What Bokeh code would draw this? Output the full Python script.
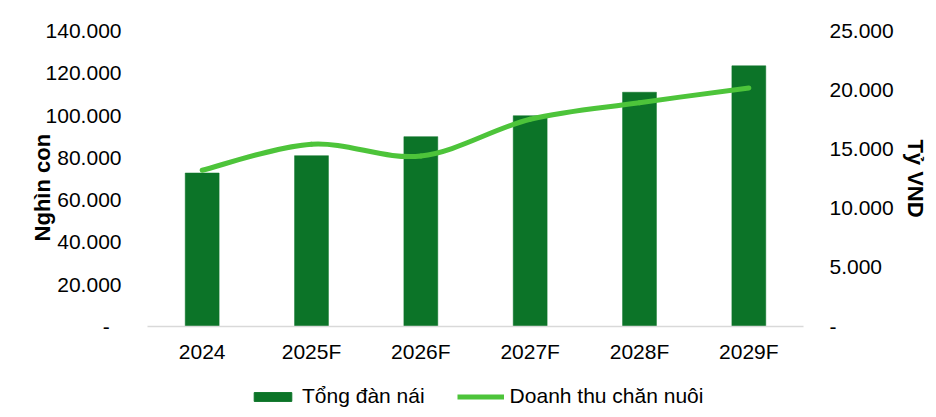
from bokeh.plotting import figure
from bokeh.layouts import column
from bokeh.models import (Range1d, LinearAxis, FixedTicker, Legend, LegendItem,
                          ColumnDataSource)
from bokeh.embed import file_html
from bokeh.resources import INLINE
import numpy as np

categories = ["2024", "2025F", "2026F", "2027F", "2028F", "2029F"]
sows = [72600, 80800, 89800, 99700, 110800, 123300]          # Nghìn con (left)
revenue = [13200, 15400, 14400, 17500, 18900, 20150]          # Tỷ VND (right)
left_ticks = [0, 20000, 40000, 60000, 80000, 100000, 120000, 140000]
right_ticks = [0, 5000, 10000, 15000, 20000, 25000]
series_names = ["Tổng đàn nái", "Doanh thu chăn nuôi"]

BAR = "#0C7428"
LINE = "#4DC43A"
FONT = "Liberation Sans"

def fmt(v):
    return f"{v:,}".replace(",", ".")

xs = list(range(len(categories)))

p = figure(frame_width=656, frame_height=296, output_backend="svg",
           toolbar_location=None,
           x_range=Range1d(-0.5, len(categories) - 0.5),
           y_range=Range1d(0, 140000),
           min_border_left=147, min_border_right=133, min_border_top=30,
           min_border_bottom=44)
p.extra_y_ranges = {"right": Range1d(0, 25000)}
p.outline_line_color = None
p.xgrid.visible = False
p.ygrid.visible = False
p.background_fill_color = "white"
p.border_fill_color = "white"

src = ColumnDataSource(dict(x=xs, top=sows))
p.vbar(x="x", top="top", width=0.31, source=src, fill_color=BAR,
       line_color=BAR, line_width=0.5)

# smooth line (Catmull-Rom style bezier through the data points)
ys = np.array(revenue, dtype=float)
xa = np.array(xs, dtype=float)
n = len(xs)
x0 = xa[:-1]; x1 = xa[1:]; y0 = ys[:-1]; y1 = ys[1:]
xp = np.concatenate([[xa[0]], xa, [xa[-1]]])
yp = np.concatenate([[ys[0]], ys, [ys[-1]]])
cx0 = x0 + (xp[2:n+1] - xp[0:n-1]) / 6
cy0 = y0 + (yp[2:n+1] - yp[0:n-1]) / 6
cx1 = x1 - (xp[3:n+2] - xp[1:n]) / 6
cy1 = y1 - (yp[3:n+2] - yp[1:n]) / 6
p.bezier(x0=x0, y0=y0, x1=x1, y1=y1, cx0=cx0, cy0=cy0, cx1=cx1, cy1=cy1,
         line_color=LINE, line_width=5, line_cap="round", y_range_name="right")

# axes
xa_ = p.xaxis[0]
xa_.ticker = FixedTicker(ticks=xs)
xa_.major_label_overrides = {i: c for i, c in enumerate(categories)}
xa_.axis_line_color = "#D9D9D9"
xa_.axis_line_width = 1.5
xa_.major_tick_line_color = None
xa_.minor_tick_line_color = None
xa_.major_label_text_font = FONT
xa_.major_label_text_font_size = "21px"
xa_.major_label_text_color = "black"
xa_.major_label_standoff = 7

ya = p.yaxis[0]
ya.ticker = FixedTicker(ticks=left_ticks)
ya.major_label_overrides = {t: (fmt(t) if t else "-\u00a0\u00a0") for t in left_ticks}
ya.axis_line_color = None
ya.major_tick_line_color = None
ya.minor_tick_line_color = None
ya.major_label_text_font = FONT
ya.major_label_text_font_size = "21px"
ya.major_label_text_color = "black"
ya.major_label_standoff = 20
ya.axis_label = "Nghìn con\u00a0\u00a0\u00a0"
ya.axis_label_text_font = FONT
ya.axis_label_text_font_style = "bold"
ya.axis_label_text_font_size = "22px"
ya.axis_label_text_color = "black"
ya.axis_label_standoff = -12

ra = LinearAxis(y_range_name="right", ticker=FixedTicker(ticks=right_ticks))
ra.major_label_overrides = {t: (fmt(t) if t else "-") for t in right_ticks}
ra.axis_line_color = None
ra.major_tick_line_color = None
ra.minor_tick_line_color = None
ra.major_label_text_font = FONT
ra.major_label_text_font_size = "21px"
ra.major_label_text_color = "black"
ra.major_label_standoff = 20
ra.axis_label = "Tỷ VND"
ra.axis_label_text_font = FONT
ra.axis_label_text_font_style = "bold"
ra.axis_label_text_font_size = "22px"
ra.axis_label_text_color = "black"
ra.axis_label_standoff = 6
p.add_layout(ra, "right")

# legend strip (separate small figure under the chart)
lg = figure(width=936, height=44, output_backend="svg", toolbar_location=None,
            x_range=Range1d(0, 1), y_range=Range1d(0, 1),
            min_border=0, min_border_left=0, min_border_right=0,
            min_border_top=0, min_border_bottom=0)
lg.axis.visible = False
lg.grid.visible = False
lg.outline_line_color = None
lb = lg.vbar(x=[5], top=[-5], bottom=[-6], width=0.1, fill_color=BAR,
             line_color=BAR)
ll = lg.line(x=[5, 6], y=[-5, -5], line_color=LINE, line_width=5)
legend = Legend(items=[LegendItem(label=series_names[0], renderers=[lb]),
                       LegendItem(label=series_names[1], renderers=[ll])],
                orientation="horizontal", location=(102, 6))
legend.label_text_font = FONT
legend.label_text_font_size = "21px"
legend.label_text_color = "black"
legend.glyph_width = 47
legend.glyph_height = 11
legend.label_standoff = 6
legend.spacing = 32
legend.padding = 0
legend.margin = 0
legend.border_line_color = None
legend.background_fill_alpha = 0
lg.add_layout(legend, "center")

open("out.html", "w").write(file_html(column(p, lg, spacing=0), INLINE))
